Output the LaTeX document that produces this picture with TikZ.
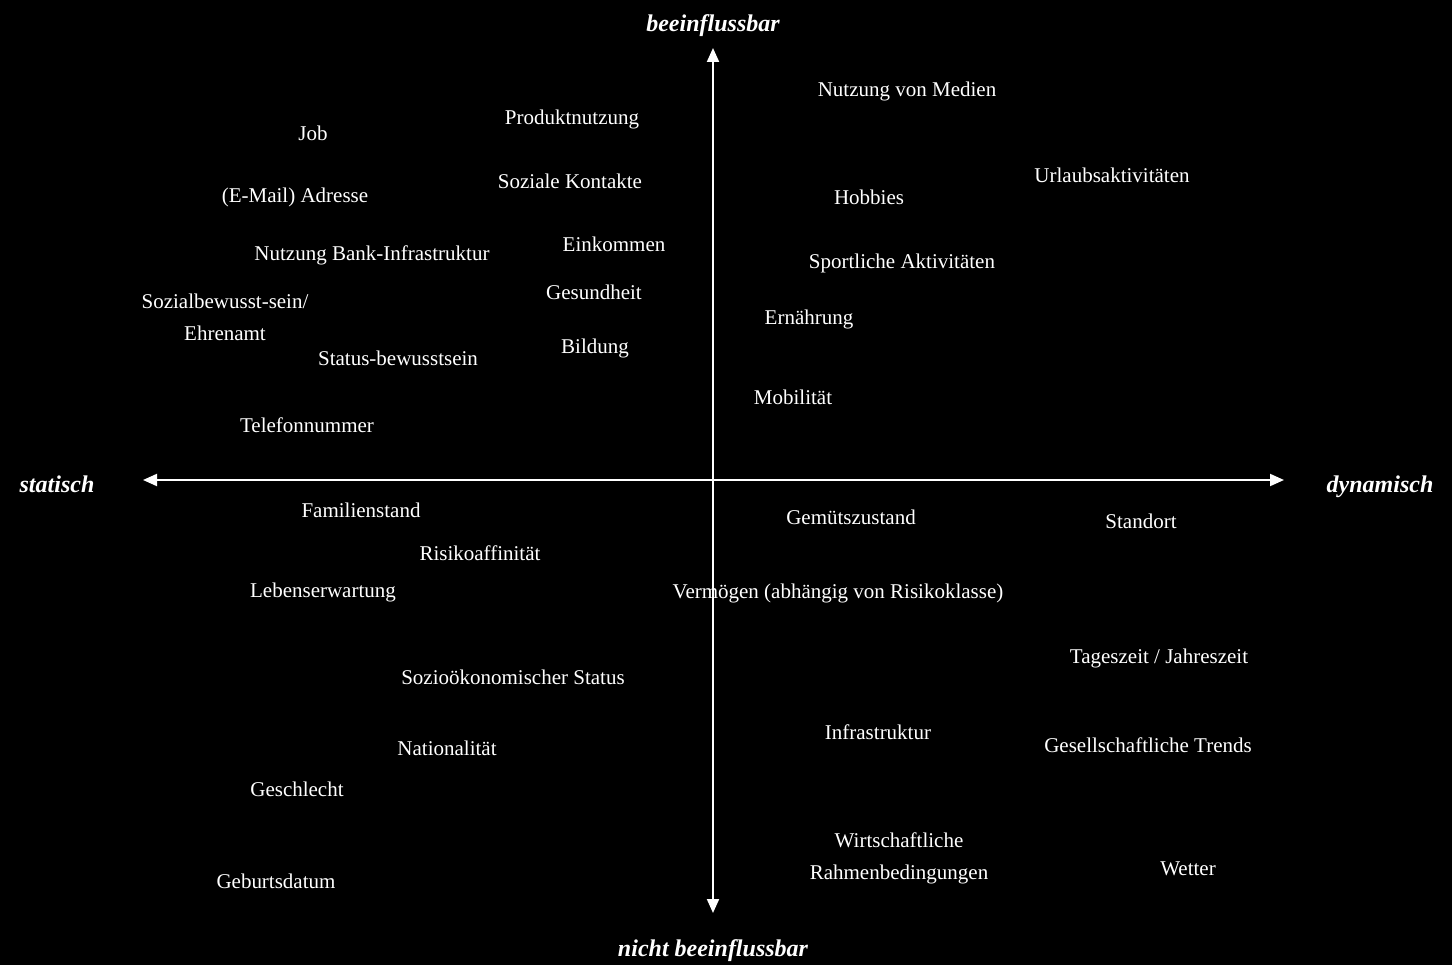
\documentclass[tikz,border=0pt]{standalone}
\usepackage{fontspec}
\setmainfont{Liberation Serif}
\usetikzlibrary{arrows.meta}
\begin{document}
\begin{tikzpicture}[x=1pt,y=-1pt,
  item/.style={text=white,font=\fontsize{21}{32}\selectfont,inner sep=0pt,text height=13pt,text depth=0pt,align=center,anchor=center},
  axislabel/.style={text=white,font=\fontsize{24}{28}\selectfont\bfseries\itshape,inner sep=0pt,text height=14pt,text depth=0pt,anchor=center},
  axis/.style={draw=white,line width=2pt,{Triangle[length=14pt,width=12pt]}-{Triangle[length=14pt,width=12pt]}}]
\fill[black] (0,0) rectangle (1452,965);
\useasboundingbox (0,0) rectangle (1452,965);
% axes
\coordinate (T) at (713,48);
\coordinate (B) at (713,913);
\coordinate (L) at (143,480);
\coordinate (R) at (1284,480);
\draw[axis] (T) -- (B);
\draw[axis] (L) -- (R);
% axis labels
\node[axislabel] (top) at (713,25) {beeinflussbar};
\node[axislabel] (bottom) at (713,949) {nicht beeinflussbar};
\node[axislabel] (left) at (57,486) {statisch};
\node[axislabel] (right) at (1380,486) {dynamisch};
% items
\node[item] (n1) at (907,90) {Nutzung von Medien};
\node[item] (n2) at (572,118) {Produktnutzung};
\node[item] (n3) at (313,134) {Job};
\node[item] (n4) at (1112,176) {Urlaubsaktivitäten};
\node[item] (n5) at (570,182) {Soziale Kontakte};
\node[item] (n6) at (295,196) {(E-Mail) Adresse};
\node[item] (n7) at (869,198) {Hobbies};
\node[item] (n8) at (614,245) {Einkommen};
\node[item] (n9) at (372,254) {Nutzung Bank-Infrastruktur};
\node[item] (n10) at (902,262) {Sportliche Aktivitäten};
\node[item] (n11) at (594,293) {Gesundheit};
\node[item] (n12) at (225,334) {Sozialbewusst-sein/\\Ehrenamt};
\node[item] (n13) at (809,318) {Ernährung};
\node[item] (n14) at (595,347) {Bildung};
\node[item] (n15) at (398,359) {Status-bewusstsein};
\node[item] (n16) at (793,398) {Mobilität};
\node[item] (n17) at (307,426) {Telefonnummer};
\node[item] (n18) at (361,511) {Familienstand};
\node[item] (n19) at (851,518) {Gemütszustand};
\node[item] (n20) at (1141,522) {Standort};
\node[item] (n21) at (480,554) {Risikoaffinität};
\node[item] (n22) at (323,591) {Lebenserwartung};
\node[item] (n23) at (838,592) {Vermögen (abhängig von Risikoklasse)};
\node[item] (n24) at (1159,657) {Tageszeit / Jahreszeit};
\node[item] (n25) at (513,678) {Sozioökonomischer Status};
\node[item] (n26) at (878,733) {Infrastruktur};
\node[item] (n27) at (1148,746) {Gesellschaftliche Trends};
\node[item] (n28) at (447,749) {Nationalität};
\node[item] (n29) at (297,790) {Geschlecht};
\node[item] (n30) at (899,873) {Wirtschaftliche\\Rahmenbedingungen};
\node[item] (n31) at (1188,869) {Wetter};
\node[item] (n32) at (276,882) {Geburtsdatum};
\end{tikzpicture}
\end{document}
